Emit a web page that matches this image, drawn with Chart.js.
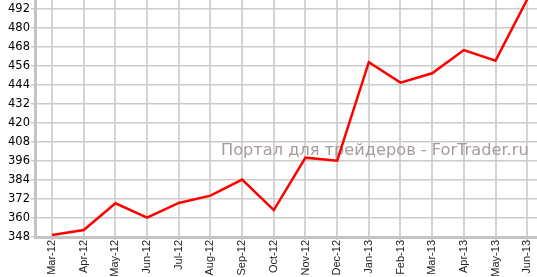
<!DOCTYPE html>
<html>
<head>
<meta charset="utf-8">
<script src="https://cdn.jsdelivr.net/npm/chart.js@4"></script>
<style>
  html, body { margin: 0; padding: 0; background: #fff; overflow: hidden; }
</style>
</head>
<body>
<canvas id="chart" width="537" height="277"></canvas>
<script>
const months = ['Mar-12', 'Apr-12', 'May-12', 'Jun-12', 'Jul-12', 'Aug-12', 'Sep-12', 'Oct-12',
  'Nov-12', 'Dec-12', 'Jan-13', 'Feb-13', 'Mar-13', 'Apr-13', 'May-13', 'Jun-13'];
const values = [349.3, 352.4, 369.3, 360.2, 369.5, 374.1, 384.3, 365.0,
  398.1, 396.2, 458.4, 445.5, 451.4, 466.1, 459.4, 498.0];
const yTicks = [348, 360, 372, 384, 396, 408, 420, 432, 444, 456, 468, 480, 492];
const watermark = 'Портал для трейдеров - ForTrader.ru';

// watermark sits behind the line, on top of the grid
const watermarkPlugin = {
  id: 'watermark',
  beforeDatasetsDraw(chart) {
    const ctx = chart.ctx;
    ctx.save();
    let size = 16;
    ctx.font = `${size}px "DejaVu Sans"`;
    const w = ctx.measureText(watermark).width;
    size = size * 308 / w;
    ctx.font = `${size}px "DejaVu Sans"`;
    ctx.fillStyle = '#a89b9b';
    ctx.textBaseline = 'middle';
    ctx.fillText(watermark, 221, 151);
    ctx.restore();
  },
};

new Chart(document.getElementById('chart'), {
  type: 'line',
  data: {
    datasets: [{
      data: values.map((v, i) => ({ x: i, y: v })),
      borderColor: '#ff0000',
      borderWidth: 2.5,
      pointRadius: 0,
      tension: 0,
      fill: false,
    }],
  },
  options: {
    responsive: false,
    animation: false,
    devicePixelRatio: 1,
    layout: { padding: 0 },
    plugins: { legend: { display: false }, tooltip: { enabled: false } },
    scales: {
      x: {
        type: 'linear',
        min: -0.54,
        max: 15.31,
        afterBuildTicks: (axis) => { axis.ticks = months.map((_, i) => ({ value: i })); },
        afterFit: (axis) => {
          axis.height = 40;
          axis.paddingLeft = 0;
          axis.paddingRight = 0;
        },
        ticks: {
          autoSkip: false,
          minRotation: 90,
          maxRotation: 90,
          padding: 0,
          color: '#222',
          font: { family: '"Liberation Sans", Arial', size: 11 },
          callback: (v) => months[v],
        },
        grid: { color: '#d4d4d4', lineWidth: 2, tickLength: 3, tickColor: '#d4d4d4' },
        border: { color: '#c4c4c4', width: 3 },
      },
      y: {
        min: 348,
        max: 497.7,
        afterBuildTicks: (axis) => { axis.ticks = yTicks.map((v) => ({ value: v })); },
        afterFit: (axis) => {
          axis.width = 35;
          axis.paddingTop = 0;
          axis.paddingBottom = 0;
        },
        ticks: {
          padding: 1,
          color: '#000',
          font: { family: '"DejaVu Sans", Verdana', size: 11.5 },
        },
        grid: { color: '#cccccc', lineWidth: 1.5, tickLength: 4, tickColor: '#a8d4f0' },
        border: { color: '#c4c4c4', width: 3 },
      },
    },
  },
  plugins: [watermarkPlugin],
});
</script>
</body>
</html>
